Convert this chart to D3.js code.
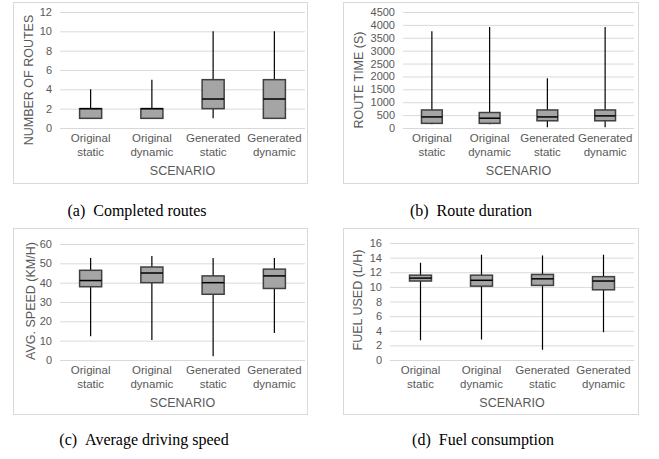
<!DOCTYPE html>
<html>
<head>
<meta charset="utf-8">
<script src="https://cdn.jsdelivr.net/npm/d3@7"></script>
<style>
  body { margin: 0; background: #fff; }
  svg { display: block; }
  .tick text { fill: #595959; font-family: "Liberation Sans", Arial, sans-serif; font-size: 11px; }
  .xcat .tick text { font-size: 11.5px; }
  .axisTitle { fill: #595959; font-family: "Liberation Sans", Arial, sans-serif; font-size: 12.5px; }
  .caption { fill: #000; font-family: "Liberation Serif", "Times New Roman", serif; font-size: 16px; }
</style>
</head>
<body>
<div id="chart"></div>
<script>
"use strict"

// scenarios on the x axis of every panel
const categories = ["Original static", "Original dynamic", "Generated static", "Generated dynamic"];

// box stats per scenario: [min, q1, median, q3, max]
const completedRoutes = [[1, 1, 2, 2, 4], [1, 1, 2, 2, 5], [1, 2, 3, 5, 10], [1, 1, 3, 5, 10]];
const routeDuration = [[150, 180, 430, 700, 3750], [150, 180, 380, 600, 3920], [30, 280, 430, 700, 1930], [30, 280, 470, 700, 3920]];
const avgSpeed = [[12.3, 37.9, 41.1, 46.4, 52.7], [10.3, 40, 45, 48.1, 53.8], [2, 34, 40, 43.5, 52.7], [14, 37, 43.5, 47, 52.7]];
const fuelUsed = [[2.7, 10.8, 11.2, 11.6, 13.3], [2.8, 10.1, 10.9, 11.6, 14.4], [1.4, 10.2, 11.1, 11.7, 14.3], [3.8, 9.6, 10.8, 11.4, 14.4]];

// tick labels of the value axes
const routesTicks = [0, 2, 4, 6, 8, 10, 12];
const durationTicks = [0, 500, 1000, 1500, 2000, 2500, 3000, 3500, 4000, 4500];
const speedTicks = [0, 10, 20, 30, 40, 50, 60];
const fuelTicks = [0, 2, 4, 6, 8, 10, 12, 14, 16];

const yTitles = ["NUMBER OF ROUTES", "ROUTE TIME (S)", "AVG. SPEED (KM/H)", "FUEL USED (L/H)"];
const captions = ["(a)\u2002Completed routes", "(b)\u2002Route duration", "(c)\u2002Average driving speed", "(d)\u2002Fuel consumption"];

// layout of the four panels
const panels = [
	{data: completedRoutes, ticks: routesTicks, frame: [13, 2, 294, 181], plot: [60, 305, 12, 128], title: [29, 80], cap: [137, 216]},
	{data: routeDuration, ticks: durationTicks, frame: [343, 2, 295, 181], plot: [403, 634, 12, 128], title: [359, 80], cap: [471, 216]},
	{data: avgSpeed, ticks: speedTicks, frame: [13, 228, 294, 186], plot: [60, 305, 244, 360], title: [31, 301], cap: [144, 445]},
	{data: fuelUsed, ticks: fuelTicks, frame: [343, 228, 295, 186], plot: [390, 634, 243, 360], title: [358, 300], cap: [483, 445]},
];

const svg = d3.select("#chart").append("svg")
	.attr("width", 659)
	.attr("height", 459);

panels.forEach((p, i) => {
	let g = svg.append("g");
	let [l, r, t, b] = p.plot;

	g.append("rect")
		.attr("x", p.frame[0] + 0.5)
		.attr("y", p.frame[1] + 0.5)
		.attr("width", p.frame[2])
		.attr("height", p.frame[3])
		.attr("fill", "#fff")
		.attr("stroke", "#d9d9d9");

	let x = d3.scaleBand().domain(categories).range([l, r]);
	let y = d3.scaleLinear().domain([0, d3.max(p.ticks)]).range([b, t]);

	// grid + tick labels
	let yAxis = g.append("g")
		.attr("transform", `translate(${l},0)`)
		.call(d3.axisLeft(y).tickValues(p.ticks).tickSize(-(r - l)).tickPadding(8).tickFormat(d3.format("d")));
	yAxis.select(".domain").remove();
	yAxis.selectAll("line").attr("stroke", "#d9d9d9");

	// category labels on two lines
	let xAxis = g.append("g")
		.attr("class", "xcat")
		.attr("transform", `translate(0,${b})`)
		.call(d3.axisBottom(x).tickSize(0).tickPadding(0));
	xAxis.select(".domain").remove();
	xAxis.selectAll(".tick text").each(function(d) {
		let words = d.split(" ");
		let txt = d3.select(this).text(null).attr("y", 0).attr("dy", null);
		words.forEach((w, k) => {
			txt.append("tspan").attr("x", 0).attr("y", 14 + k * 13.5).text(w);
		});
	});

	g.append("text")
		.attr("class", "axisTitle")
		.attr("x", (l + r) / 2)
		.attr("y", b + 47)
		.attr("text-anchor", "middle")
		.text("SCENARIO");

	g.append("text")
		.attr("class", "axisTitle")
		.attr("transform", `translate(${p.title[0]},${p.title[1]})rotate(-90)`)
		.attr("text-anchor", "middle")
		.attr("dominant-baseline", "central")
		.text(yTitles[i]);

	// whiskers then boxes
	let bw = x.bandwidth() * 0.36;
	let boxes = g.selectAll(".box").data(p.data).enter().append("g")
		.attr("class", "box")
		.attr("transform", (d, k) => `translate(${x(categories[k]) + x.bandwidth() / 2},0)`);

	boxes.append("line")
		.attr("x1", 0).attr("x2", 0)
		.attr("y1", d => y(d[0]))
		.attr("y2", d => y(d[4]))
		.attr("stroke", "#000")
		.attr("stroke-width", 1.2);

	boxes.append("rect")
		.attr("x", -bw / 2)
		.attr("y", d => y(d[3]))
		.attr("width", bw)
		.attr("height", d => y(d[1]) - y(d[3]))
		.attr("fill", "#a5a5a5")
		.attr("stroke", "#404040")
		.attr("stroke-width", 1.5);

	boxes.append("line")
		.attr("x1", -bw / 2).attr("x2", bw / 2)
		.attr("y1", d => y(d[2]))
		.attr("y2", d => y(d[2]))
		.attr("stroke", "#000")
		.attr("stroke-width", 1.5);

	svg.append("text")
		.attr("class", "caption")
		.attr("x", p.cap[0])
		.attr("y", p.cap[1])
		.attr("text-anchor", "middle")
		.text(captions[i]);
});
</script>
</body>
</html>
